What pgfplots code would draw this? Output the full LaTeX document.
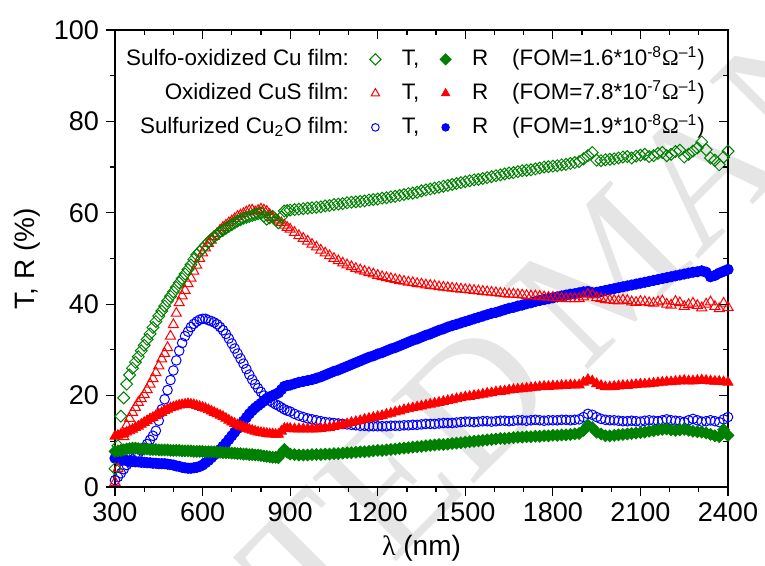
\documentclass[border=0pt]{standalone}
\usepackage{fontspec}
\setmainfont{Liberation Sans}
\newfontfamily\symfont{Liberation Serif}
\usepackage{pgfplots}
\usepackage{pgfplotstable}
\pgfplotsset{compat=1.18}
\definecolor{ogreen}{RGB}{0,128,0}
\definecolor{ored}{RGB}{255,0,0}
\definecolor{oblue}{RGB}{0,0,255}

% lambda (nm), T and R (%) of the three films (marks only, so row order is free)
\pgfplotstableread{
x    GT   GR   RT   RR   BT   BR
300  4    7.8  1    11.1 1.5  6.3
310  9    7.9  4    11.3 2.2  6.1
320  15.5 8.0  8    11.5 3.0  6.0
340  22.5 8.3  13.5 12.0 4.8  5.8
360  26   8.5  16.3 12.6 6.0  5.6
380  28.5 8.4  18.5 13.3 7.3  5.5
400  31   8.3  20.2 14.1 8.6  5.4
420  33.5 8.2  22.5 14.9 10.3 5.3
440  36.2 8.2  25   15.6 12.3 5.2
460  38.5 8.1  28   16.3 17   5.1
480  40.7 8.1  30.5 17.0 21.2 5.0
500  42.7 8.0  35.5 17.5 25.5 4.8
520  44.7 8.0  40.3 17.9 29.8 4.5
540  46.6 7.9  43   18.1 33   4.2
560  48.6 7.9  45.7 18.1 35   4.1
580  50.8 7.8  48.5 17.8 36.2 4.3
600  52.2 7.8  51.2 17.4 36.8 4.8
620  53.6 7.7  53.3 16.9 36.5 5.8
640  54.8 7.7  54.8 16.3 36   7.0
660  55.8 7.6  56.2 15.7 35   8.2
680  56.6 7.5  57.3 15.0 33.5 9.6
700  57.4 7.4  58.2 14.2 31.4 11.2
720  58.2 7.3  59.2 13.6 29.2 12.8
740  58.8 7.2  59.8 13.1 27   14.4
760  59.2 7.1  60.5 12.6 24.6 16.0
780  59.6 7.0  60.2 12.2 22.5 17.3
800  60   6.9  60.8 11.9 20.8 18.3
820  58.6 6.7  60.3 11.7 19.4 19.3
840  59.2 6.5  59   11.6 18.5 20.0
860  57.8 6.4  58.2 11.5 17.8 20.6
880  60.4 8.2  57.3 12.8 17   22.0
900  60.6 7.2  56.4 12.8 16.5 22.3
930  60.8 7.0  55   12.7 15.6 22.9
960  61   7.0  53.8 12.7 15.0 23.3
990  61.2 7.1  52.5 12.7 14.6 23.8
1020 61.5 7.2  51.2 12.9 14.2 24.5
1050 61.8 7.3  50   13.2 14.0 25.3
1080 62   7.4  49   13.6 13.8 26.0
1110 62.3 7.5  48.2 14.1 13.6 26.8
1140 62.5 7.7  47.5 14.5 13.4 27.6
1170 62.8 7.8  46.9 15.0 13.3 28.4
1200 63   8.0  46.3 15.4 13.3 29.1
1230 63.3 8.1  45.8 15.9 13.3 29.8
1260 63.6 8.3  45.4 16.4 13.4 30.5
1290 64   8.5  45   16.9 13.5 31.3
1320 64.3 8.7  44.7 17.3 13.6 32.1
1350 64.8 8.9  44.4 17.7 13.7 32.8
1380 65.2 9.1  44.1 18.1 13.8 33.5
1410 65.6 9.3  43.8 18.5 13.9 34.3
1440 66   9.4  43.6 18.9 14.0 35.0
1470 66.4 9.6  43.4 19.3 14.1 35.6
1500 66.8 9.8  43.2 19.7 14.3 36.2
1530 67.2 10.0 43   20.0 14.2 36.8
1560 67.5 10.2 42.8 20.3 14.4 37.4
1590 67.9 10.4 42.6 20.6 14.3 38.0
1620 68.3 10.6 42.4 20.9 14.5 38.5
1650 68.7 10.7 42.2 21.2 14.4 39.1
1680 69   10.9 42.1 21.4 14.6 39.6
1710 69.3 11.0 41.9 21.6 14.5 40.1
1740 69.6 11.1 41.8 21.8 14.7 40.6
1770 70   11.2 41.6 22.0 14.5 41.0
1800 70.2 11.3 41.5 22.1 14.6 41.4
1830 70.5 11.4 41.3 22.2 14.7 41.8
1860 70.8 11.5 41.2 22.3 14.6 42.2
1890 71.2 11.7 41.2 22.3 14.8 42.5
1920 72.5 13.5 42.2 23.5 16.0 42.8
1950 71.5 12.0 41.4 22.6 15.3 42.6
1980 71.6 11.2 41   21.9 14.7 43.0
2010 71.8 11.3 40.8 22.0 14.6 43.4
2040 72.2 11.5 40.9 22.2 14.4 43.8
2070 72   11.7 40.5 22.3 14.5 44.2
2100 72.6 11.9 40.6 22.5 14.3 44.6
2130 72.3 12.2 40.3 22.6 14.6 45.0
2160 73   12.5 40.5 22.8 14.4 45.4
2190 72.5 12.7 40   23.0 14.8 45.8
2220 73.4 12.4 40.6 23.1 14.5 46.2
2250 72.2 12.6 39.5 23.3 14.2 46.6
2280 73.5 12.2 40.2 23.2 14.9 47.0
2310 75.5 12.0 39.2 23.4 14.3 47.3
2340 72   11.5 40.5 23.2 14.6 46.0
2370 70.5 11.0 39   23.1 14.2 46.8
2400 73.5 11.3 39.3 22.9 15.3 47.6
330  19.5 8.1  11   11.7 3.9  5.9
350  24.5 8.4  15   12.3 5.4  5.7
370  27.3 8.5  17.4 13.0 6.6  5.5
390  29.8 8.3  19.3 13.7 8.0  5.4
410  32.3 8.3  21.3 14.5 9.4  5.3
430  34.9 8.2  23.7 15.2 11.2 5.2
450  37.4 8.1  26.5 16.0 14.5 5.1
470  39.6 8.1  29.2 16.7 19.2 5.1
490  41.7 8.0  33   17.3 23.4 4.9
510  43.7 8.0  38   17.7 27.7 4.6
530  45.6 7.9  41.8 18.0 31.5 4.3
550  47.6 7.9  44.5 18.2 34   4.1
570  49.8 7.8  47.2 18.0 35.7 4.2
590  51.5 7.8  50   17.6 36.6 4.5
610  52.9 7.7  52.3 17.2 36.8 5.3
630  54.2 7.7  54   16.6 36.3 6.4
650  55.3 7.6  55.5 16.0 35.6 7.6
670  56.2 7.5  56.8 15.4 34.3 8.9
690  57   7.5  57.8 14.6 32.5 10.4
710  57.8 7.4  58.7 13.9 30.3 12.0
730  58.5 7.3  59.5 13.3 28.1 13.6
750  59   7.2  60.2 12.8 25.8 15.2
770  59.4 7.1  60.6 12.4 23.5 16.7
790  59.8 7.0  60.5 12.0 21.6 17.8
810  59.3 6.8  60.6 11.8 20   18.8
830  58.9 6.6  59.6 11.6 18.9 19.7
850  58.5 6.5  58.6 11.5 18.1 20.3
870  59.1 7.4  57.8 12.2 17.4 21.3
890  60.5 7.6  56.8 12.8 16.7 22.2
915  60.7 7.1  55.7 12.7 16.0 22.6
945  60.9 7.0  54.4 12.7 15.3 23.1
975  61.1 7.1  53.1 12.7 14.8 23.5
1005 61.3 7.1  51.8 12.8 14.4 24.1
1035 61.6 7.2  50.6 13.0 14.1 24.9
1065 61.9 7.3  49.5 13.4 13.9 25.6
1095 62.2 7.5  48.6 13.8 13.7 26.4
1125 62.4 7.6  47.8 14.3 13.5 27.2
1155 62.6 7.7  47.2 14.8 13.4 28.0
1185 62.9 7.9  46.6 15.2 13.3 28.7
1215 63.2 8.0  46   15.6 13.3 29.4
1245 63.5 8.2  45.6 16.1 13.4 30.2
1275 63.8 8.4  45.2 16.6 13.4 30.9
1305 64.2 8.6  44.8 17.1 13.5 31.7
1335 64.5 8.8  44.5 17.5 13.6 32.4
1365 65   9.0  44.2 17.9 13.8 33.2
1395 65.4 9.2  44   18.3 13.8 33.9
1425 65.8 9.3  43.7 18.7 14.0 34.6
1455 66.2 9.5  43.5 19.1 14.0 35.3
1485 66.6 9.7  43.3 19.5 14.2 35.9
1515 67   9.9  43.1 19.8 14.3 36.5
1545 67.3 10.1 42.9 20.1 14.3 37.1
1575 67.7 10.3 42.7 20.5 14.4 37.7
1605 68.1 10.5 42.5 20.8 14.4 38.2
1635 68.5 10.6 42.3 21.0 14.5 38.8
1665 68.8 10.8 42.2 21.3 14.5 39.3
1695 69.2 10.9 42   21.5 14.6 39.8
1725 69.4 11.0 41.8 21.7 14.6 40.3
1755 69.8 11.1 41.7 21.9 14.6 40.8
1785 70.1 11.2 41.5 22.0 14.6 41.2
1815 70.3 11.3 41.4 22.1 14.6 41.6
1845 70.6 11.4 41.2 22.2 14.7 42.0
1875 71   11.6 41.2 22.3 14.7 42.3
1905 71.8 12.4 41.6 22.9 15.3 42.7
1935 73.2 13.0 42   23.2 15.8 42.5
1965 71.4 11.6 41.2 22.2 14.9 42.8
1995 71.7 11.2 40.9 21.9 14.6 43.2
2025 72   11.4 40.7 22.1 14.5 43.6
2055 72.3 11.6 40.8 22.2 14.4 44.0
2085 72.4 11.8 40.4 22.4 14.4 44.4
2115 72.8 12.0 40.5 22.5 14.5 44.8
2145 72.5 12.3 40.2 22.7 14.5 45.2
2175 73.2 12.6 40.7 22.9 14.6 45.6
2205 72.8 12.5 39.8 23.0 14.6 46.0
2235 73.7 12.5 40.3 23.2 14.4 46.4
2265 72.8 12.4 39.9 23.2 14.6 46.8
2295 74.2 12.1 39.7 23.3 14.6 47.1
2325 73.8 11.8 40   23.3 14.4 47.0
2355 71.5 11.2 39.5 23.1 14.4 46.3
2385 72.2 12.5 40.2 23.0 14.8 47.2
}\spectra

\pgfplotsset{
  frame/.style={
    scale only axis, width=306.5pt, height=228.5pt,
    at={(0pt,0pt)}, anchor=south west,
    xmin=300, xmax=2400, ymin=0, ymax=100,
    xtick={300,600,...,2400}, ytick={0,20,...,100},
    minor x tick num=2, minor y tick num=1,
    major tick length=4.5pt, minor tick length=2.5pt,
    every tick/.append style={black, line width=0.6pt},
  },
  mk/.style={
    legend image code/.code={\path (0pt,0pt) (14pt,0pt);
      \draw[##1] plot coordinates {(7pt,0pt)};}},
}

\begin{document}
\begin{tikzpicture}
\useasboundingbox (-57.5pt,-39.5pt) rectangle (325pt,243.5pt);

% watermark of the page
\begin{scope}[every node/.style={inner sep=0pt, text=black!10, rotate=45,
    font=\symfont\fontsize{90}{90}\selectfont}]
  \node[anchor=east] at (203pt,66.5pt) {ACCEPTED};
  \node[anchor=west] at (214pt,77.5pt) {MANUSCRIPT};
\end{scope}

\begin{axis}[frame,
  xtick pos=left, ytick pos=left, tick align=outside,
  axis line style={line width=0.65pt},
  tick label style={font=\fontsize{13.5}{14}\selectfont},
  /pgf/number format/assume math mode=true,
  /pgf/number format/1000 sep={},
  xlabel={{\symfont λ} (nm)}, ylabel={T, R (\%)},
  label style={font=\fontsize{14}{15}\selectfont},
  xlabel style={at={(axis description cs:0.5,-0.1335)}, anchor=center},
  ylabel style={at={(axis description cs:-0.1436,0.5)}, anchor=center},
  legend columns=4, legend cell align=right,
  legend style={at={(0.966,0.965)}, anchor=north east, draw=none, fill=none,
    inner sep=0pt, font=\fontsize{11.2}{12}\selectfont,
    row sep=4pt, column sep=5pt,
    nodes={inner sep=1pt, text height=8.5pt, text depth=2.5pt}},
  mark options={solid},
]
\addplot[only marks, oblue, mark=o, mark size=2.4pt, mark options={line width=0.5pt}, forget plot]
  table[x=x, y=BT] {\spectra};
\addplot[only marks, oblue, mark=*, mark size=2.6pt, forget plot]
  table[x=x, y=BR] {\spectra};
\addplot[only marks, ored, mark=triangle, mark size=2.9pt, mark options={line width=0.5pt}, forget plot]
  table[x=x, y=RT] {\spectra};
\addplot[only marks, ored, mark=triangle*, mark size=2.9pt, forget plot]
  table[x=x, y=RR] {\spectra};
\addplot[only marks, ogreen, mark=square, mark size=2.1pt, mark options={rotate=45, line width=0.5pt}, forget plot]
  table[x=x, y=GT] {\spectra};
\addplot[only marks, ogreen, mark=square*, mark size=2.1pt, mark options={rotate=45}, forget plot]
  table[x=x, y=GR] {\spectra};

\addlegendimage{empty legend}
\addlegendentry{Sulfo-oxidized Cu film:}
\addlegendimage{only marks, ogreen, mark=square, mark size=2pt, mark options={rotate=45, line width=0.5pt}, mk}
\addlegendentry{T,}
\addlegendimage{only marks, ogreen, mark=square*, mark size=2pt, mark options={rotate=45}, mk}
\addlegendentry{R}
\addlegendimage{empty legend}
\addlegendentry{(FOM=1.6*10\textsuperscript{-8}{\symfont Ω}\textsuperscript{–1})}
\addlegendimage{empty legend}
\addlegendentry{Oxidized CuS film:}
\addlegendimage{only marks, ored, mark=triangle, mark size=2.4pt, mark options={line width=0.5pt}, mk}
\addlegendentry{T,}
\addlegendimage{only marks, ored, mark=triangle*, mark size=2.4pt, mk}
\addlegendentry{R}
\addlegendimage{empty legend}
\addlegendentry{(FOM=7.8*10\textsuperscript{-7}{\symfont Ω}\textsuperscript{–1})}
\addlegendimage{empty legend}
\addlegendentry{Sulfurized Cu\textsubscript{2}O film:}
\addlegendimage{only marks, oblue, mark=o, mark size=1.9pt, mark options={line width=0.5pt}, mk}
\addlegendentry{T,}
\addlegendimage{only marks, oblue, mark=*, mark size=1.9pt, mk}
\addlegendentry{R}
\addlegendimage{empty legend}
\addlegendentry{(FOM=1.9*10\textsuperscript{-8}{\symfont Ω}\textsuperscript{–1})}
\end{axis}

% mirror ticks on the top and right, pointing in
\begin{axis}[frame,
  xtick pos=right, ytick pos=right, tick align=inside,
  xticklabels={}, yticklabels={},
  axis line style={draw=none},
]
\end{axis}
\end{tikzpicture}
\end{document}
